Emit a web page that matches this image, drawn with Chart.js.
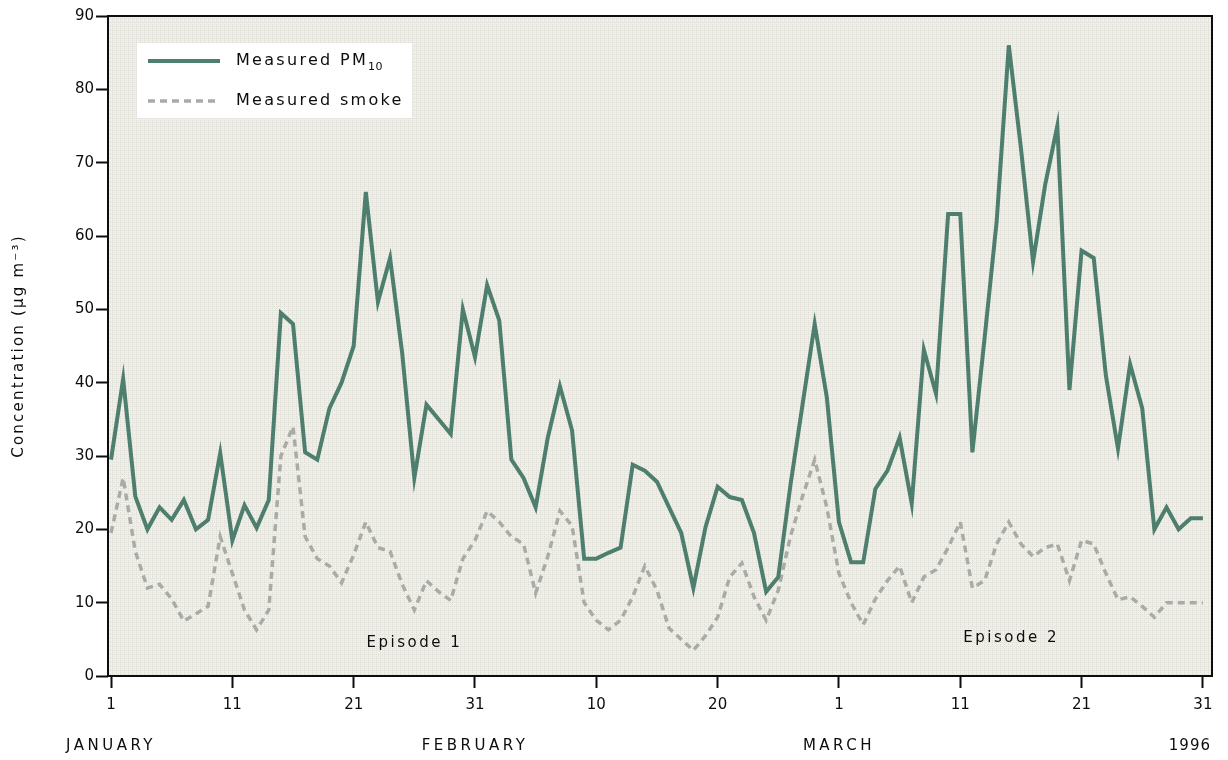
<!DOCTYPE html>
<html>
<head>
<meta charset="utf-8">
<script src="https://cdn.jsdelivr.net/npm/chart.js@4/dist/chart.umd.min.js"></script>
<style>
  html, body { margin: 0; padding: 0; background: #ffffff; }
  #wrap { width: 1228px; height: 760px; position: relative; }
</style>
</head>
<body>
<div id="wrap"><canvas id="chart" width="1228" height="760"></canvas></div>
<script>
// Daily concentrations, 1 January – 31 March 1996 (index 0 = 1 January)
const pm10 = [
  29.5, 40.5, 24.5, 20, 23, 21.3, 24, 20, 21.3, 30.4,
  18.5, 23.3, 20.2, 24, 49.5, 48, 30.5, 29.5, 36.5, 40,
  45, 66, 51, 57, 44, 27, 37, 35, 33, 50,
  43.5, 53.3, 48.5, 29.5, 27, 23, 32.5, 39.5, 33.5, 16,
  16, 16.8, 17.5, 28.8, 28, 26.5, 23, 19.5, 12, 20.3,
  25.8, 24.4, 24, 19.5, 11.5, 13.5, 26, 37, 48, 38,
  21, 15.5, 15.5, 25.5, 28, 32.5, 23.5, 44.5, 38.5, 63,
  63, 30.5, 46, 62, 86, 72, 56.5, 67, 75, 39,
  58, 57, 41, 31, 42.5, 36.5, 20, 23, 20, 21.5,
  21.5
];
const smoke = [
  19.5, 27, 17, 12, 12.5, 10.5, 7.5, 8.5, 9.5, 19,
  14, 9, 6.3, 9, 30, 34, 19, 16, 15, 12.7,
  16.5, 21, 17.5, 17, 12.5, 9, 13, 11.5, 10.3, 16,
  18.5, 22.5, 21, 19, 18, 11.3, 16.3, 22.5, 20.5, 10,
  7.6, 6.3, 7.6, 10.8, 15, 11.7, 6.5, 5, 3.5, 5.5,
  8, 13.5, 15.4, 10.8, 7.6, 11.7, 19, 24.5, 29.5, 23,
  14, 10, 7, 10.5, 13, 15, 10, 13.5, 14.5, 17.5,
  21, 12, 13, 18, 21, 18, 16.3, 17.5, 18, 13,
  18.5, 18, 14, 10.4, 10.8, 9.5, 8, 10, 10, 10,
  10
];

// Axis labelling
const xTickDays   = [0, 10, 20, 30, 40, 50, 60, 70, 80, 90];
const xTickLabels = ['1', '11', '21', '31', '10', '20', '1', '11', '21', '31'];
const monthDays   = [0, 30, 60];
const monthLabels = ['JANUARY', 'FEBRUARY', 'MARCH'];
const yearLabel   = '1996';
const yTitle      = 'Concentration (\u00b5g m\u207b\u00b3)';
const seriesNames = ['Measured PM', 'Measured smoke'];
const episodeLabels = ['Episode 1', 'Episode 2'];

const FONT = "'DejaVu Sans', Verdana, sans-serif";
const INK = '#0d0d0d';
const PM_COLOR = '#4e7e6e';
const SMOKE_COLOR = '#a9aca6';

// dotted paper texture for the plot area
const texture = (() => {
  const c = document.createElement('canvas');
  c.width = 4; c.height = 4;
  const g = c.getContext('2d');
  g.fillStyle = '#efefea';
  g.fillRect(0, 0, 4, 4);
  g.fillStyle = '#dcdcd4';
  g.fillRect(0, 0, 1, 1);
  g.fillRect(2, 2, 1, 1);
  g.fillRect(0, 2, 1, 1);
  return c;
})();

const plotBackground = {
  id: 'plotBackground',
  beforeDraw(chart) {
    const { ctx, chartArea: a } = chart;
    ctx.save();
    ctx.fillStyle = ctx.createPattern(texture, 'repeat');
    ctx.fillRect(a.left, a.top, a.right - a.left, a.bottom - a.top);
    ctx.restore();
  }
};

const decorations = {
  id: 'decorations',
  afterDraw(chart) {
    const { ctx, chartArea: a, scales } = chart;
    const xs = scales.x, ys = scales.y;
    ctx.save();

    // frame round the plot
    ctx.strokeStyle = INK;
    ctx.lineWidth = 2;
    ctx.strokeRect(a.left, a.top, a.right - a.left, a.bottom - a.top);

    // legend box
    ctx.fillStyle = '#ffffff';
    ctx.fillRect(137, 43, 275, 75);
    ctx.lineWidth = 4;
    ctx.strokeStyle = PM_COLOR;
    ctx.beginPath(); ctx.moveTo(148, 61); ctx.lineTo(220, 61); ctx.stroke();
    ctx.lineWidth = 3.5;
    ctx.strokeStyle = SMOKE_COLOR;
    ctx.setLineDash([7, 5]);
    ctx.beginPath(); ctx.moveTo(148, 101); ctx.lineTo(220, 101); ctx.stroke();
    ctx.setLineDash([]);

    ctx.fillStyle = INK;
    ctx.textBaseline = 'middle';
    ctx.textAlign = 'left';
    ctx.font = '16px ' + FONT;
    ctx.letterSpacing = '2.3px';
    ctx.fillText(seriesNames[0], 236, 61);
    const w = ctx.measureText(seriesNames[0]).width;
    ctx.font = '11px ' + FONT;
    ctx.letterSpacing = '0.5px';
    ctx.fillText('10', 236 + w, 67);
    ctx.font = '16px ' + FONT;
    ctx.letterSpacing = '2.3px';
    ctx.fillText(seriesNames[1], 236, 101);

    // episode annotations
    ctx.font = '15px ' + FONT;
    ctx.textAlign = 'center';
    ctx.letterSpacing = '2.5px';
    ctx.fillText(episodeLabels[0], xs.getPixelForValue(25), ys.getPixelForValue(4.5));
    ctx.fillText(episodeLabels[1], xs.getPixelForValue(74.2), ys.getPixelForValue(5.2));

    // month row under the day numbers
    ctx.letterSpacing = '3.5px';
    monthDays.forEach((d, i) => {
      ctx.fillText(monthLabels[i], xs.getPixelForValue(d), 746);
    });
    ctx.textAlign = 'right';
    ctx.letterSpacing = '1px';
    ctx.fillText(yearLabel, a.right - 1, 746);

    // y-axis title
    ctx.translate(19, (a.top + a.bottom) / 2);
    ctx.rotate(-Math.PI / 2);
    ctx.textAlign = 'center';
    ctx.font = '15px ' + FONT;
    ctx.letterSpacing = '2.2px';
    ctx.fillText(yTitle, 0, 0);

    ctx.restore();
  }
};

new Chart(document.getElementById('chart'), {
  type: 'line',
  data: {
    datasets: [
      {
        label: 'Measured PM10',
        data: pm10.map((v, i) => ({ x: i, y: v })),
        borderColor: PM_COLOR,
        borderWidth: 4,
        pointRadius: 0,
        tension: 0,
        fill: false
      },
      {
        label: 'Measured smoke',
        data: smoke.map((v, i) => ({ x: i, y: v })),
        borderColor: SMOKE_COLOR,
        borderWidth: 3.5,
        borderDash: [7, 5],
        pointRadius: 0,
        tension: 0,
        fill: false
      }
    ]
  },
  options: {
    responsive: false,
    animation: false,
    devicePixelRatio: 1,
    layout: { padding: { top: 16, right: 16, left: 0, bottom: 0 } },
    plugins: { legend: { display: false }, tooltip: { enabled: false } },
    scales: {
      x: {
        type: 'linear',
        min: -0.25,
        max: 90.75,
        afterBuildTicks: s => { s.ticks = xTickDays.map(v => ({ value: v })); },
        afterFit: s => { s.height = 84; },
        ticks: {
          callback: (v, i) => xTickLabels[i],
          font: { family: FONT, size: 15 },
          color: INK,
          padding: 8,
          maxRotation: 0,
          autoSkip: false
        },
        grid: { drawOnChartArea: false, drawTicks: true, tickLength: 12, tickWidth: 2, tickColor: INK },
        border: { display: false }
      },
      y: {
        min: 0,
        max: 90,
        afterFit: s => { s.width = 108; },
        ticks: {
          stepSize: 10,
          font: { family: FONT, size: 15 },
          color: INK,
          padding: 2
        },
        grid: { drawOnChartArea: false, drawTicks: true, tickLength: 12, tickWidth: 2, tickColor: INK },
        border: { display: false }
      }
    }
  },
  plugins: [plotBackground, decorations]
});
</script>
</body>
</html>
